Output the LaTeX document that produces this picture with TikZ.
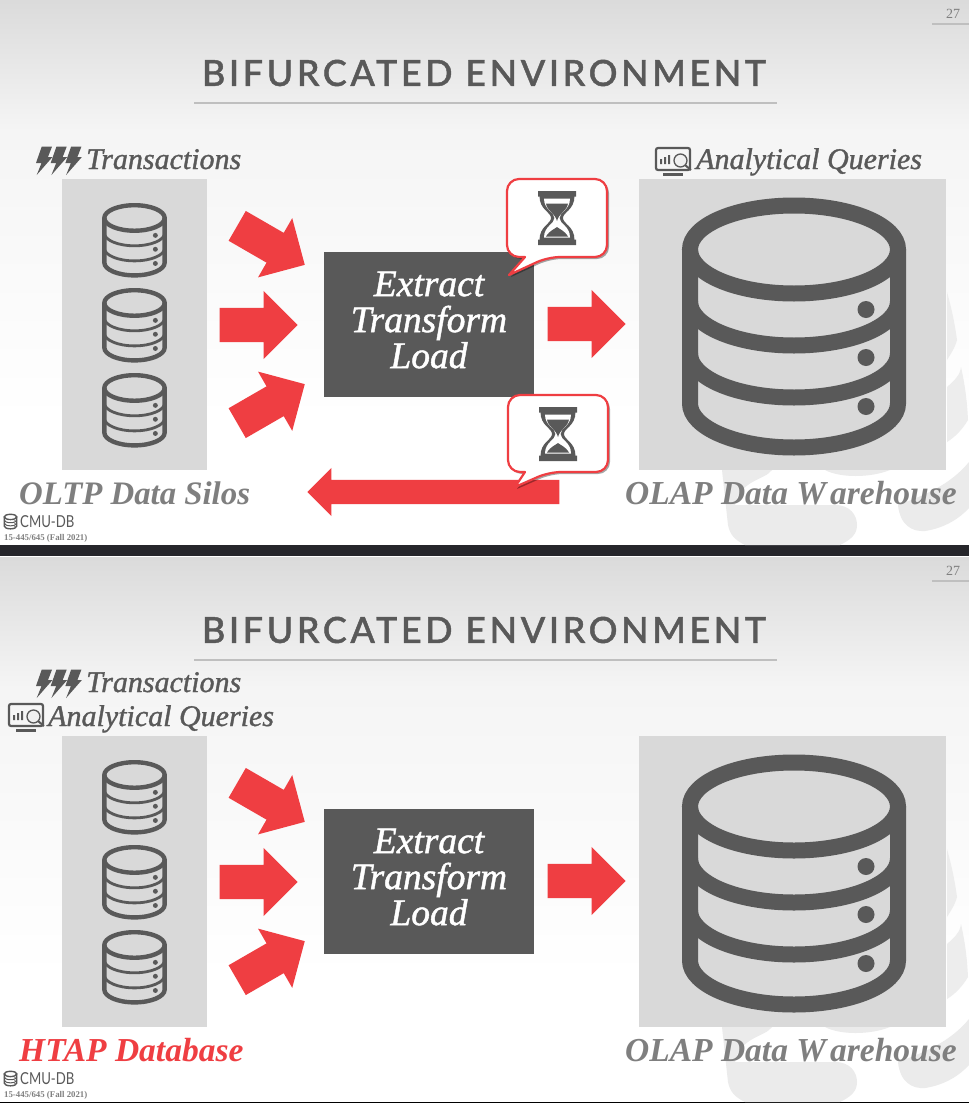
\documentclass[tikz,border=0pt]{standalone}
\usepackage{fontspec}
\setmainfont{Liberation Serif}
\newfontfamily\titlefont[LetterSpace=9.9,FakeBold=1.2]{Lato Medium}
\newfontfamily\logofont[FakeStretch=0.8]{Lato}
\newfontfamily\semifont[ItalicFeatures={FakeBold=1.2}]{Liberation Serif}
\usetikzlibrary{positioning, shapes.arrows, shadows}

\definecolor{iconcol}{HTML}{595959}
\definecolor{boxcol}{HTML}{D9D9D9}
\definecolor{hotred}{HTML}{EF3E42}
\definecolor{labelcol}{HTML}{7F7F7F}
\definecolor{markcol}{HTML}{EBEBEB}
\definecolor{barcol}{HTML}{26262B}

\tikzset{
    x=1pt, y=-1pt,
    redarrow/.style={single arrow, fill=hotred, inner sep=0pt, minimum height=78pt, text height=34pt, text depth=0pt,
        single arrow head extend=17pt, single arrow tip angle=90},
    querylabel/.style={font=\fontsize{30}{30}\selectfont\semifont\itshape, text=iconcol, inner sep=0pt, anchor=base west},
    storelabel/.style={font=\fontsize{33.5}{33.5}\selectfont\bfseries\itshape, text=labelcol, inner sep=0pt, anchor=base west},
    bubble/.style={draw=hotred, fill=white, line width=2.2pt, line join=round,
        drop shadow={shadow xshift=2pt, shadow yshift=-2pt, fill=black, opacity=0.35}},
    pics/dbicon/.style n args={3}{code={
        \begin{scope}[scale=#1, line width=#2, draw=iconcol]
            \draw (0,-76) ellipse [x radius=104pt, y radius=44pt];
            \draw (-104,-76) -- (-104,78) arc [start angle=180, end angle=360, x radius=104pt, y radius=44pt] -- (104,-76);
            \draw[line width=#3] (-104,-24) arc [start angle=180, end angle=360, x radius=104pt, y radius=44pt];
            \draw[line width=#3] (-104,28) arc [start angle=180, end angle=360, x radius=104pt, y radius=44pt];
            \foreach \doty in {-16, 32, 81}
                \fill[iconcol] (72,\doty) circle [radius=8.5pt];
        \end{scope}
    }},
    pics/hourglass/.style={code={
        \fill[iconcol] (-19,-27) rectangle (19,-21.5) (-19,21.5) rectangle (19,27);
        \fill[iconcol] (-17.5,-22) .. controls (-17.5,-8) and (-6,-6) .. (-6,0) .. controls (-6,6) and (-17.5,8) .. (-17.5,22)
            -- (17.5,22) .. controls (17.5,8) and (6,6) .. (6,0) .. controls (6,-6) and (17.5,-8) .. (17.5,-22) -- cycle;
        \fill[white] (-13,-19.5) .. controls (-13,-8) and (-2.5,-6) .. (-2.5,0) .. controls (-2.5,6) and (-13,8) .. (-13,19.5)
            -- (13,19.5) .. controls (13,8) and (2.5,6) .. (2.5,0) .. controls (2.5,-6) and (13,-8) .. (13,-19.5) -- cycle;
        \fill[iconcol] (-11,-14.5) -- (11,-14.5) .. controls (10,-7) and (2,-5) .. (0,3) .. controls (-2,-5) and (-10,-7) .. (-11,-14.5) -- cycle;
        \fill[iconcol] (-11,18.5) .. controls (-7,12) and (-2,11) .. (0,9) .. controls (2,11) and (7,12) .. (11,18.5) -- cycle;
    }},
    pics/bolts/.style={code={
        \foreach \boltx in {0, 14.7, 29.4}
            \fill[iconcol, xshift=\boltx pt] (5.7,0.7) -- (16,0.7) -- (12,11) -- (16.5,11) -- (0.7,29) -- (5.5,17) -- (0,17) -- cycle;
    }},
    pics/screen/.style={code={
        \draw[iconcol, line width=2.2pt, rounded corners=2pt] (1,1) rectangle (35,23);
        \fill[iconcol] (8,26) rectangle (28,29);
        \fill[iconcol] (5,12) rectangle (7,17) (9,10) rectangle (11,17) (13,8) rectangle (15,17);
        \draw[iconcol, line width=1.3pt, fill=boxcol!40] (25.5,13.5) circle [radius=6.5pt];
        \draw[iconcol, line width=2pt] (30,18) -- (36,23);
    }},
    pics/slide/.style={code={
        \shade[top color=boxcol!95, bottom color=black!4] (0,0) rectangle (969,130);
        \shade[top color=black!4, bottom color=white] (0,130) rectangle (969,420);
        \fill[white] (0,420) rectangle (969,545);
        % background watermark
        \fill[markcol] (722,470) -- (772,470) .. controls (765,480) and (740,480) .. (735,505) -- (835,505)
            .. controls (850,505) and (857,515) .. (857,525) .. controls (857,535) and (850,540) .. (840,545)
            -- (745,545) .. controls (735,540) and (730,535) .. (728,525) -- cycle;
        \fill[markcol] (825,470) -- (890,470) .. controls (870,478) and (840,478) .. cycle;
        \fill[markcol] (969,462) .. controls (950,485) and (925,495) .. (898,505) .. controls (900,525) and (912,532) .. (925,531)
            .. controls (945,528) and (960,518) .. (969,508) -- cycle;
        \fill[black!7] (947,292) .. controls (952,310) and (955,325) .. (957,340) .. controls (955,348) and (950,355) .. (947,360) -- cycle;
        \fill[black!7] (947,387) .. controls (955,380) and (960,375) .. (961,367) .. controls (965,385) and (967,400) .. (968,420)
            .. controls (962,430) and (955,437) .. (947,442) -- cycle;
        \node[font=\fontsize{36}{36}\selectfont\titlefont, text=iconcol, inner sep=0pt] (title) at (484,73) {BIFURCATED ENVIRONMENT};
        \draw[black!25, line width=2pt] (194,103) -- (777,103);
        \node[font=\fontsize{14}{14}\selectfont, text=labelcol, inner sep=0pt] (pageno) at (953,14) {27};
        \draw[black!25, line width=1.5pt] (932,24) -- (969,24);
        \fill[boxcol] (62,179) rectangle (207,470);
        \fill[boxcol] (639,179) rectangle (946,470);
        \pic at (134.5,240) {dbicon={0.29}{4.4pt}{2.8pt}};
        \pic at (134.5,325) {dbicon={0.29}{4.4pt}{2.8pt}};
        \pic at (134.5,410) {dbicon={0.29}{4.4pt}{2.8pt}};
        \pic at (794,325.5) {dbicon={1}{16pt}{16pt}};
        \node[fill=iconcol, minimum width=210pt, minimum height=145pt, inner sep=0pt, anchor=north west] (etl) at (324,252) {};
        \node[align=center, text=white, inner sep=0pt, font=\fontsize{37.5}{36}\selectfont\semifont\itshape] (etltext) at (429,320) {Extract\\Transform\\Load};
        \node[redarrow, rotate=-30, anchor=tip] (upper) at (305,265) {};
        \node[redarrow, anchor=tip] (middle) at (298,325) {};
        \node[redarrow, rotate=30, anchor=tip] (lower) at (305,384) {};
        \node[redarrow, anchor=tip] (load) at (626,324) {};
        \pic at (10.5,521.5) {dbicon={0.06}{1.4pt}{1pt}};
        \node[font=\fontsize{16.5}{16.5}\selectfont\logofont, text=iconcol, inner sep=0pt, anchor=west] (logo) at (20,522) {CMU-DB};
        \node[font=\fontsize{8.8}{8.8}\selectfont\bfseries, text=labelcol, inner sep=0pt, anchor=west] (course) at (4,538) {15-445/645 (Fall 2021)};
        \node[storelabel] (warehouse) at (625,504) {OLAP Data W\kern4pt arehouse};
    }},
}

\begin{document}
\begin{tikzpicture}
    \useasboundingbox (0,0) rectangle (969,1103);
    \fill[barcol] (0,545) rectangle (969,556);
    \fill[black] (0,1101) rectangle (969,1103);

    \pic at (0,0) {slide};
    \pic at (36,146) {bolts};
    \node[querylabel] (trans) at (86,169) {Transactions};
    \pic at (655,147) {screen};
    \node[querylabel] (queries) at (696,169) {Analytical Queries};
    \node[storelabel, font=\fontsize{32.8}{33}\selectfont\bfseries\itshape] (silos) at (19,504) {OLTP Data Silos};

    % delays on the way over and back
    \node[redarrow, text height=24pt, single arrow head extend=12pt, minimum height=252pt, rotate=180, anchor=tip] (back) at (307,492) {};
    \path[bubble, rounded corners=12pt] (557,179) -- (607,179) -- (607,257) -- (548,257) [sharp corners] -- (509,275) -- (525,257)
        [rounded corners=12pt] -- (507,257) -- (507,179) -- cycle;
    \pic at (557,218) {hourglass};
    \path[bubble, rounded corners=12pt] (558,395) -- (608,395) -- (608,472) -- (549,472) [sharp corners] -- (515,487) -- (525,472)
        [rounded corners=12pt] -- (508,472) -- (508,395) -- cycle;
    \pic at (558,434) {hourglass};

    \begin{scope}[yshift=-557pt]
        \pic at (0,0) {slide};
        \pic at (36,112) {bolts};
        \node[querylabel] (trans2) at (86,135) {Transactions};
        \pic at (8,146) {screen};
        \node[querylabel] (queries2) at (48,169) {Analytical Queries};
        \node[storelabel, text=hotred] (htap) at (19,504) {HTAP Database};
    \end{scope}
\end{tikzpicture}
\end{document}
